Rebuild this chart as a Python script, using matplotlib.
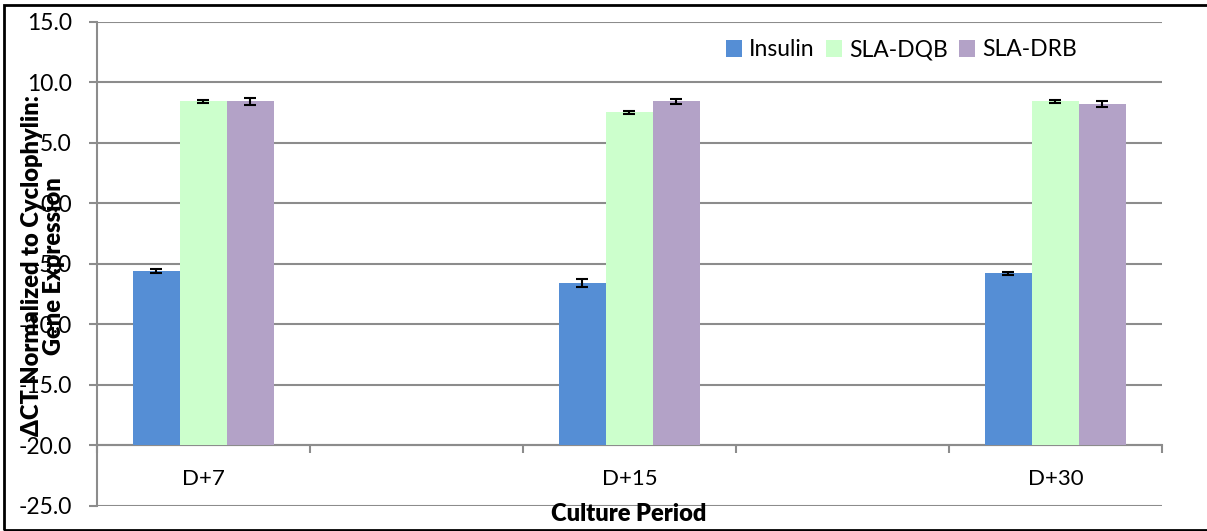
import numpy as np
import matplotlib
matplotlib.use('Agg')
import matplotlib.pyplot as plt
from matplotlib.ticker import FormatStrFormatter, FixedLocator
from matplotlib.patches import Rectangle

# ---- data ----
categories = ['D+7', '', 'D+15', '', 'D+30']
insulin = [-5.6, np.nan, -6.6, np.nan, -5.8]
insulin_err = [0.15, np.nan, 0.32, np.nan, 0.14]
sla_dqb = [8.4, np.nan, 7.5, np.nan, 8.4]
sla_dqb_err = [0.11, np.nan, 0.14, np.nan, 0.14]
sla_drb = [8.4, np.nan, 8.4, np.nan, 8.2]
sla_drb_err = [0.26, np.nan, 0.17, np.nan, 0.22]
series_names = ['Insulin', 'SLA-DQB', 'SLA-DRB']
y_ticks = [-25, -20, -15, -10, -5, 0, 5, 10, 15]

plt.rcParams['font.family'] = ['Lato', 'DejaVu Sans']
plt.rcParams['axes.unicode_minus'] = False

W, H = 1207, 531
fig = plt.figure(figsize=(W / 100, H / 100), dpi=100)
ax = fig.add_axes([96.7 / W, 1 - 506 / H, (1162 - 96.7) / W, (506 - 21.5) / H])

grid_col = '#8c8c8c'
colors = ['#558ED5', '#CCFFCC', '#B3A2C7']
base = -20  # category axis crosses here
x = np.arange(len(categories))
w = 0.2206

for i, (vals, errs) in enumerate([(insulin, insulin_err), (sla_dqb, sla_dqb_err), (sla_drb, sla_drb_err)]):
    vals = np.array(vals, float)
    errs = np.array(errs, float)
    m = ~np.isnan(vals)
    xi = x[m] + (i - 1) * w
    ax.bar(xi, vals[m] - base, width=w, bottom=base, color=colors[i],
           label=series_names[i], zorder=3, linewidth=0)
    ax.errorbar(xi, vals[m], yerr=errs[m], fmt='none', ecolor='black',
                elinewidth=1.5, capsize=4.6, capthick=1.5, zorder=4)

ax.set_ylim(y_ticks[0], y_ticks[-1])
ax.set_xlim(-0.5, len(categories) - 0.5)
ax.yaxis.set_major_locator(FixedLocator(y_ticks))
ax.yaxis.set_major_formatter(FormatStrFormatter('%.1f'))
ax.grid(axis='y', color=grid_col, linewidth=1.5, zorder=0)
ax.set_axisbelow(True)

for s in ['top', 'right']:
    ax.spines[s].set_visible(False)
ax.spines['left'].set_color(grid_col)
ax.spines['left'].set_linewidth(1.5)
ax.spines['bottom'].set_position(('data', base))
ax.spines['bottom'].set_color(grid_col)
ax.spines['bottom'].set_linewidth(1.5)

ax.tick_params(axis='y', length=6, width=1.5, color=grid_col, labelsize=16.5, pad=12)
ax.set_xticks(x)
ax.set_xticklabels(categories)
ax.xaxis.set_minor_locator(FixedLocator(np.arange(-0.5, len(categories), 1.0)))
ax.tick_params(axis='x', which='major', length=0, labelsize=16, pad=17)
ax.tick_params(axis='x', which='minor', length=6, width=1.5, color=grid_col)

ax.legend(loc='center left', bbox_to_anchor=(726 / W, 1 - 50 / H),
          bbox_transform=fig.transFigure, ncol=3, frameon=False, fontsize=16.5,
          handlelength=0.7, handleheight=0.7, handletextpad=0.3,
          columnspacing=0.5, borderpad=0, borderaxespad=0)

fig.text(43 / W, 1 - 266 / H, 'ΔCT Normalized to Cyclophylin:\nGene Expression',
         rotation=90, ha='center', va='center', ma='center',
         fontsize=17, fontweight='heavy', linespacing=1.0)
fig.text(629 / W, 1 - 514 / H, 'Culture Period', ha='center', va='center',
         fontsize=17, fontweight='heavy')

fig.patches.append(Rectangle((4 / W, 0.8 / H), (W + 20) / W, (H - 5.3) / H,
                             transform=fig.transFigure, fill=False,
                             edgecolor='black', linewidth=2.0))

fig.savefig('out.png', dpi=100)
